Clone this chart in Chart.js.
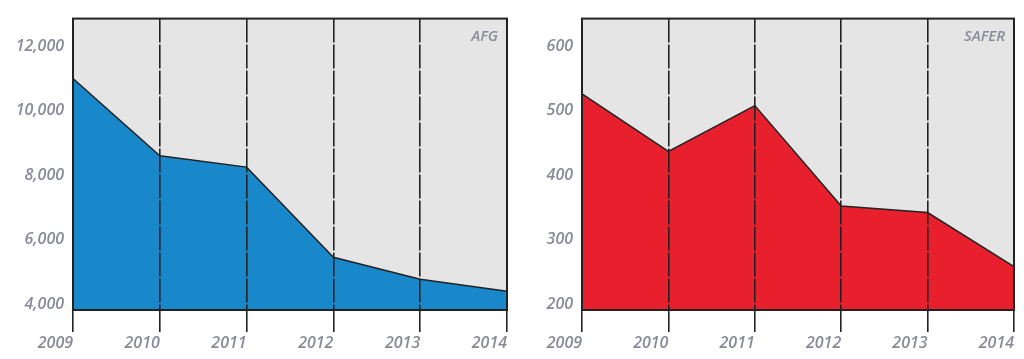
<!DOCTYPE html>
<html><head><meta charset="utf-8">
<script src="https://cdn.jsdelivr.net/npm/chart.js@4"></script>
<style>
html,body{margin:0;padding:0;background:#fff;width:1024px;height:359px;overflow:hidden}
.c{position:absolute;top:0}
</style></head><body>
<div class="c" style="left:0"><canvas id="c1" width="512" height="359"></canvas></div>
<div class="c" style="left:512px"><canvas id="c2" width="512" height="359"></canvas></div>
<script>
const years = ['2009','2010','2011','2012','2013','2014'];
const afgValues = [11000, 8600, 8250, 5450, 4770, 4400];
const saferValues = [526, 437, 508, 352, 342, 258];
const afgTicks = [4000, 6000, 8000, 10000, 12000];
const saferTicks = [200, 300, 400, 500, 600];

const labelFont = {family: '"Open Sans", sans-serif', size: 16, style: 'italic', weight: '600'};
const labelColor = '#898a98';

function fmt(v){ return String(v).replace(/\B(?=(\d{3})+(?!\d))/g, ','); }

const panelPlugin = {
  id: 'panel',
  beforeDatasetsDraw(chart) {
    const a = chart.chartArea, ctx = chart.ctx;
    ctx.save(); ctx.fillStyle = '#e5e5e5';
    ctx.fillRect(a.left, a.top, a.right - a.left, a.bottom - a.top);
    ctx.restore();
  },
  afterDraw(chart, args, opts) {
    const a = chart.chartArea, ctx = chart.ctx;
    ctx.save();
    ctx.strokeStyle = '#222'; ctx.lineWidth = 2;
    ctx.strokeRect(a.left, a.top, a.right - a.left, a.bottom - a.top);
    ctx.fillStyle = labelColor;
    ctx.font = 'italic 600 15px "Open Sans", sans-serif';
    ctx.textAlign = 'right'; ctx.textBaseline = 'middle';
    ctx.fillText(opts.title, a.right - 9, a.top + 18);
    ctx.restore();
  }
};

function makeChart(id, values, ticks, min, max, color, title, yWidth, padRight) {
  return new Chart(document.getElementById(id), {
    type: 'line',
    data: { labels: years, datasets: [{
      data: values, fill: 'start', backgroundColor: color,
      borderColor: '#222', borderWidth: 1.5, pointRadius: 0, tension: 0
    }]},
    options: {
      responsive: false, animation: false,
      layout: { padding: { top: 16, right: padRight, left: 0, bottom: 0 } },
      plugins: { legend: {display: false}, tooltip: {enabled: false}, panel: {title} },
      scales: {
        x: {
          type: 'category', offset: false,
          grid: { display: true, drawOnChartArea: true, drawTicks: true, tickLength: 22,
                  color: '#222', lineWidth: 1.6, tickColor: '#222', tickWidth: 1.6, tickBorderDash: [], z: 1 },
          border: { display: false, dash: [24, 2] },
          ticks: { align: 'end', font: labelFont, color: labelColor, padding: 2, maxRotation: 0, autoSkip: false },
          afterFit(s) { s.height = 359 - 310; }
        },
        y: {
          min, max,
          grid: { display: false, drawTicks: false },
          border: { display: false },
          afterBuildTicks(s) { s.ticks = ticks.map(v => ({value: v})); },
          ticks: { font: labelFont, color: labelColor, padding: 9, callback: v => fmt(v) },
          afterFit(s) { s.width = yWidth; }
        }
      }
    },
    plugins: [panelPlugin]
  });
}

makeChart('c1', afgValues, afgTicks, 3815, 12860, '#1888ca', 'AFG', 73, 5);
makeChart('c2', saferValues, saferTicks, 190.7, 643, '#e8202e', 'SAFER', 70, 10);
</script>
</body></html>
